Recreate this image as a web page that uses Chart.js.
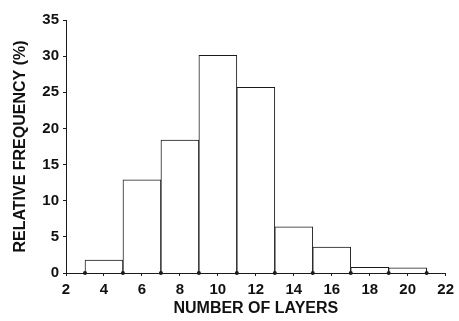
<!DOCTYPE html>
<html>
<head>
<meta charset="utf-8">
<script src="https://cdn.jsdelivr.net/npm/chart.js@4/dist/chart.umd.min.js"></script>
<style>
  html, body { margin: 0; padding: 0; background: #fff; }
  #wrap { width: 459px; height: 321px; }
</style>
</head>
<body>
<div id="wrap"><canvas id="c" width="459" height="321"></canvas></div>
<script>
// Histogram of layer counts: bins of width 2, centred on even numbers
const binCenters = [4, 6, 8, 10, 12, 14, 16, 18, 20];
const frequency = [1.8, 12.9, 18.4, 30.1, 25.7, 6.4, 3.6, 0.8, 0.7];
const binEdges = [3, 5, 7, 9, 11, 13, 15, 17, 19, 21];
const xTicks = [2, 4, 6, 8, 10, 12, 14, 16, 18, 20, 22];
const yTicks = [0, 5, 10, 15, 20, 25, 30, 35];

const ink = '#1b1b1b';
const tickFont = { family: 'Liberation Sans', size: 15, weight: 'bold' };
const titleFont = { family: 'Liberation Sans', size: 16, weight: 'bold' };

new Chart(document.getElementById('c'), {
  type: 'bar',
  data: {
    datasets: [
      {
        type: 'scatter',
        data: binEdges.map(x => ({ x, y: 0 })),
        pointRadius: 2,
        pointBackgroundColor: ink,
        pointBorderWidth: 0,
        clip: false,
        order: 0
      },
      {
        data: binCenters.map((x, i) => ({ x, y: frequency[i] })),
        backgroundColor: '#ffffff',
        borderColor: ink,
        borderWidth: 1,
        barPercentage: 1,
        categoryPercentage: 1,
        order: 1
      }
    ]
  },
  options: {
    responsive: false,
    animation: false,
    layout: { padding: { top: 20, left: 0, right: 0, bottom: 0 } },
    plugins: { legend: { display: false }, tooltip: { enabled: false } },
    scales: {
      x: {
        type: 'linear',
        offset: false,
        min: 2,
        max: 22,
        afterBuildTicks: s => { s.ticks = xTicks.map(v => ({ value: v })); },
        afterFit: s => { s.height = 48; },
        grid: { offset: false, drawOnChartArea: false, drawTicks: true, tickLength: 3, color: ink },
        border: { display: true, color: ink, width: 1, dash: [6, 3, 1, 3] },
        ticks: { color: '#111', font: tickFont, padding: 5, maxRotation: 0 },
        title: { display: true, text: 'NUMBER OF LAYERS', color: '#111', font: titleFont, padding: { top: 0, bottom: 3 } }
      },
      y: {
        min: 0,
        max: 35,
        afterBuildTicks: s => { s.ticks = yTicks.map(v => ({ value: v })); },
        afterFit: s => { s.width = 66; },
        grid: { drawOnChartArea: false, drawTicks: true, tickLength: 3, color: ink },
        border: { display: true, color: ink, width: 1, dash: [2, 2] },
        ticks: { color: '#111', font: tickFont, padding: 4 },
        title: { display: true, text: 'RELATIVE FREQUENCY (%)', color: '#111', font: titleFont, padding: { top: 11, bottom: 0 } }
      }
    }
  }
});
</script>
</body>
</html>
